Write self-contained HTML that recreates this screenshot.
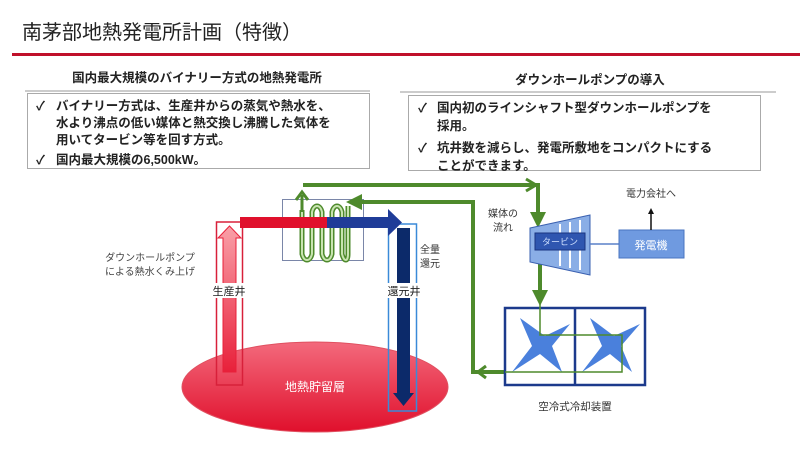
<!DOCTYPE html>
<html><head><meta charset="utf-8"><style>
html,body{margin:0;padding:0;background:#fff;}
svg{display:block;font-family:"Liberation Sans","Noto Sans CJK JP",sans-serif;}
</style></head><body>
<svg width="800" height="458" viewBox="0 0 800 458" xmlns="http://www.w3.org/2000/svg">
<defs>
<linearGradient id="ell" x1="0" y1="0" x2="0" y2="1"><stop offset="0" stop-color="#f36a7c"/><stop offset="1" stop-color="#e0102c"/></linearGradient>
<linearGradient id="up" x1="0" y1="0" x2="0" y2="1"><stop offset="0" stop-color="#f9a0a8"/><stop offset="1" stop-color="#e8203a"/></linearGradient>
<marker id="ga" markerWidth="4" markerHeight="4" refX="2.5" refY="2" orient="auto" markerUnits="strokeWidth"><path d="M0,0 L4,2 L0,4 z" fill="#4e8a2c"/></marker>
</defs>
<text x="22" y="39" font-size="20" fill="#222">南茅部地熱発電所計画（特徴）</text>
<rect x="12" y="53" width="788" height="3" fill="#c0102a"/>
<text x="197" y="82" font-size="12.5" font-weight="bold" text-anchor="middle" fill="#222">国内最大規模のバイナリー方式の地熱発電所</text>
<line x1="25" y1="91" x2="370" y2="91" stroke="#999" stroke-width="1"/>
<rect x="27.5" y="93.5" width="342" height="75" fill="#fff" stroke="#aaa"/>
<g font-size="12.5" font-weight="bold" fill="#222">
<text x="36" y="110">✓</text><text x="56" y="110">バイナリー方式は、生産井からの蒸気や熱水を、</text>
<text x="56" y="127">水より沸点の低い媒体と熱交換し沸騰した気体を</text>
<text x="56" y="144">用いてタービン等を回す方式。</text>
<text x="36" y="164">✓</text><text x="56" y="164">国内最大規模の6,500kW。</text>
</g>
<text x="590" y="84" font-size="12.5" font-weight="bold" text-anchor="middle" fill="#222">ダウンホールポンプの導入</text>
<line x1="400" y1="92" x2="776" y2="92" stroke="#999" stroke-width="1"/>
<rect x="408.5" y="95.5" width="352" height="75" fill="#fff" stroke="#aaa"/>
<g font-size="12.5" font-weight="bold" fill="#222">
<text x="418" y="112">✓</text><text x="437" y="112">国内初のラインシャフト型ダウンホールポンプを</text>
<text x="437" y="130">採用。</text>
<text x="418" y="152">✓</text><text x="437" y="152">坑井数を減らし、発電所敷地をコンパクトにする</text>
<text x="437" y="170">ことができます。</text>
</g>
<ellipse cx="315" cy="387" rx="133" ry="45" fill="url(#ell)" stroke="#e05060"/>
<text x="315" y="391" font-size="12" fill="#fff" text-anchor="middle">地熱貯留層</text>
<rect x="216.5" y="222" width="26" height="163" fill="none" stroke="#d8203a" stroke-width="1.5"/>
<path d="M223,372 L223,238 L218,238 L229.5,226 L241,238 L236,238 L236,372 z" fill="url(#up)" stroke="#e8203a"/>
<rect x="209" y="283" width="42" height="15" fill="#fff"/>
<text x="229" y="295" font-size="11" text-anchor="middle" fill="#222">生産井</text>
<rect x="388.5" y="224" width="28" height="187" fill="none" stroke="#3a8ad8" stroke-width="1.5"/>
<path d="M397,228 L410,228 L410,393 L414,393 L403.5,406 L393,393 L397,393 z" fill="#0c2a6a"/>
<rect x="383" y="283" width="44" height="15" fill="#fff"/>
<text x="404" y="295" font-size="11" text-anchor="middle" fill="#222">還元井</text>
<rect x="282.5" y="199.5" width="81" height="61" fill="#fff" stroke="#7a86a8"/>
<path d="M302,210 L302,254 C304,262 310,262 312,254 L312,212 C314,204 320,204 322,212 L322,254 C324,262 330,262 332,254 L332,212 C334,204 340,204 342,212 L342,254 C344,262 348,262 348,254 L348,206" fill="none" stroke="#4e8a2c" stroke-width="5"/>
<path d="M302,210 L302,254 C304,262 310,262 312,254 L312,212 C314,204 320,204 322,212 L322,254 C324,262 330,262 332,254 L332,212 C334,204 340,204 342,212 L342,254 C344,262 348,262 348,254 L348,206" fill="none" stroke="#c8e4b0" stroke-width="2"/>
<rect x="240" y="217" width="88" height="11" fill="#e0102c"/>
<rect x="327" y="217" width="62" height="11" fill="#1f3c98"/>
<path d="M388,209 L402,222.5 L388,236 z" fill="#1f3c98"/>
<path d="M302,212 L302,195 M296,200 L302,192 L308,200" fill="none" stroke="#4e8a2c" stroke-width="3"/>
<polyline points="303,185 538,185 538,222" fill="none" stroke="#4e8a2c" stroke-width="4" marker-end="url(#ga)"/>
<path d="M526,179 L536,185 L526,191" fill="none" stroke="#4e8a2c" stroke-width="3"/>
<polyline points="505,372 473,372 473,202 352,202" fill="none" stroke="#4e8a2c" stroke-width="4" marker-end="url(#ga)"/>
<path d="M486,366 L478,372 L486,378" fill="none" stroke="#4e8a2c" stroke-width="3"/>
<line x1="540" y1="262" x2="540" y2="300" stroke="#4e8a2c" stroke-width="4" marker-end="url(#ga)"/>
<text x="430" y="253" font-size="10" fill="#333" text-anchor="middle">全量</text>
<text x="430" y="267" font-size="10" fill="#333" text-anchor="middle">還元</text>
<text x="150" y="261" font-size="10" fill="#444" text-anchor="middle">ダウンホールポンプ</text>
<text x="150" y="275" font-size="10" fill="#444" text-anchor="middle">による熱水くみ上げ</text>
<text x="503" y="217" font-size="10" fill="#333" text-anchor="middle">媒体の</text>
<text x="503" y="231" font-size="10" fill="#333" text-anchor="middle">流れ</text>
<path d="M530,228 L590,215 L590,275 L530,262 z" fill="#8aaee6" stroke="#3a60b0"/>
<g stroke="#fff" stroke-width="2"><line x1="560" y1="224" x2="560" y2="266"/><line x1="570" y1="222" x2="570" y2="268"/><line x1="580" y1="220" x2="580" y2="270"/></g>
<rect x="535" y="233" width="50" height="17" fill="#2f56b0" stroke="#1a3480"/>
<text x="560" y="245" font-size="9" fill="#cfe0ff" text-anchor="middle">タービン</text>
<line x1="590" y1="244" x2="619" y2="244" stroke="#5a80c8" stroke-width="1.5"/>
<rect x="619" y="230" width="65" height="28" fill="#6f9ae0" stroke="#4a74c0"/>
<text x="651" y="249" font-size="11" fill="#fff" text-anchor="middle">発電機</text>
<line x1="651" y1="230" x2="651" y2="212" stroke="#111" stroke-width="1.5"/>
<path d="M648,214 L651,208 L654,214 z" fill="#111"/>
<text x="651" y="197" font-size="10" fill="#333" text-anchor="middle">電力会社へ</text>
<rect x="505" y="308" width="140" height="77" fill="#fff" stroke="#1c3a8c" stroke-width="2.5"/>
<line x1="575" y1="308" x2="575" y2="385" stroke="#1c3a8c" stroke-width="2.5"/>
<path d="M520,318 L545,336 L570,324 L552,346 L562,372 L540,354 L512,372 L532,346 z" fill="#4a80dc"/>
<path d="M590,318 L614,336 L640,324 L621,346 L632,372 L610,354 L582,372 L602,346 z" fill="#4a80dc"/>
<polyline points="540,300 540,335 622,335 622,372 505,372" fill="none" stroke="#4e8a2c" stroke-width="1.5"/>
<text x="575" y="410" font-size="10.5" fill="#333" text-anchor="middle">空冷式冷却装置</text>
</svg>
</body></html>
